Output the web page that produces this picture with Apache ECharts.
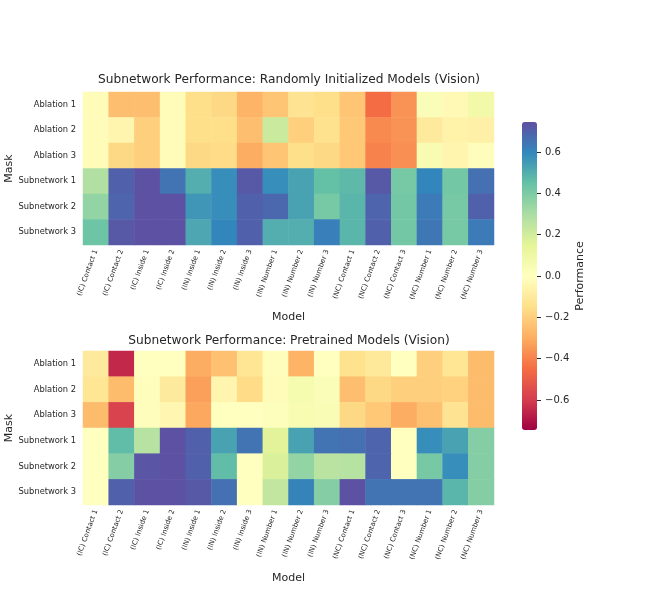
<!DOCTYPE html>
<html>
<head>
<meta charset="utf-8">
<script src="https://cdn.jsdelivr.net/npm/echarts@6/dist/echarts.min.js"></script>
<style>
  html, body { margin: 0; padding: 0; background: #fff; }
  #chart { width: 664px; height: 595px; }
</style>
</head>
<body>
<div id="chart"></div>
<script>
// column and row names
var models = ['(IC) Contact 1', '(IC) Contact 2', '(IC) Inside 1', '(IC) Inside 2',
  '(IN) Inside 1', '(IN) Inside 2', '(IN) Inside 3', '(IN) Number 1', '(IN) Number 2', '(IN) Number 3',
  '(NC) Contact 1', '(NC) Contact 2', '(NC) Contact 3', '(NC) Number 1', '(NC) Number 2', '(NC) Number 3'];
var masks = ['Ablation 1', 'Ablation 2', 'Ablation 3', 'Subnetwork 1', 'Subnetwork 2', 'Subnetwork 3'];

// randomly initialized models, one row per mask
var randomRows = [
  [-0.02, -0.25, -0.25, -0.02, -0.15, -0.17, -0.28, -0.23, -0.13, -0.15, -0.23, -0.45, -0.36, 0.03, -0.03, 0.08],
  [-0.02, -0.05, -0.20, -0.02, -0.15, -0.15, -0.25, 0.22, -0.20, -0.14, -0.22, -0.38, -0.36, -0.10, -0.06, -0.07],
  [-0.02, -0.17, -0.20, -0.02, -0.17, -0.16, -0.30, -0.23, -0.15, -0.17, -0.22, -0.40, -0.37, 0.05, -0.05, -0.01],
  [0.28, 0.70, 0.74, 0.65, 0.50, 0.58, 0.72, 0.58, 0.53, 0.45, 0.47, 0.72, 0.41, 0.60, 0.42, 0.66],
  [0.35, 0.69, 0.74, 0.74, 0.56, 0.58, 0.70, 0.68, 0.53, 0.41, 0.48, 0.69, 0.42, 0.63, 0.41, 0.70],
  [0.43, 0.72, 0.74, 0.74, 0.52, 0.60, 0.70, 0.50, 0.50, 0.62, 0.48, 0.70, 0.42, 0.64, 0.41, 0.63]
];

// pretrained models
var pretrainedRows = [
  [-0.10, -0.65, 0.00, 0.00, -0.30, -0.24, -0.12, -0.01, -0.28, 0.00, -0.14, -0.11, 0.00, -0.20, -0.12, -0.26],
  [-0.12, -0.26, -0.01, -0.10, -0.33, -0.05, -0.16, -0.02, 0.06, 0.03, -0.25, -0.17, -0.20, -0.20, -0.19, -0.26],
  [-0.26, -0.58, -0.01, -0.04, -0.31, 0.00, 0.00, 0.01, 0.05, 0.04, -0.17, -0.22, -0.30, -0.24, -0.13, -0.26],
  [0.00, 0.46, 0.27, 0.74, 0.70, 0.53, 0.65, 0.16, 0.53, 0.65, 0.66, 0.69, 0.00, 0.58, 0.53, 0.38],
  [0.00, 0.38, 0.73, 0.74, 0.70, 0.46, 0.00, 0.18, 0.35, 0.26, 0.27, 0.69, 0.00, 0.41, 0.58, 0.38],
  [0.00, 0.70, 0.74, 0.74, 0.72, 0.66, 0.00, 0.24, 0.61, 0.38, 0.74, 0.65, 0.65, 0.65, 0.48, 0.38]
];

var colorbarTicks = [-0.6, -0.4, -0.2, 0.0, 0.2, 0.4, 0.6];
var vLimit = 0.745;
var spectral = ['#9e0142', '#d53e4f', '#f46d43', '#fdae61', '#fee08b', '#ffffbf',
  '#e6f598', '#abdda4', '#66c2a5', '#3288bd', '#5e4fa2'];

function toCells(rows) {
  var out = [];
  rows.forEach(function (row, y) {
    row.forEach(function (v, x) { out.push([x, y, v]); });
  });
  return out;
}

var txt = '#262626';
var font = 'DejaVu Sans';

function xAx(gi, gap) {
  return {
    type: 'category', gridIndex: gi, data: models,
    name: 'Model', nameLocation: 'middle', nameGap: gap, nameMoveOverlap: false,
    nameTextStyle: { fontSize: 11, color: txt, fontFamily: font },
    axisLine: { show: false }, axisTick: { show: false }, splitLine: { show: false },
    axisLabel: { rotate: 70, fontSize: 7, color: txt, fontFamily: font, margin: 5, interval: 0 }
  };
}
function yAx(gi) {
  return {
    type: 'category', gridIndex: gi, data: masks, inverse: true,
    name: 'Mask', nameLocation: 'middle', nameGap: 68, nameMoveOverlap: false,
    nameTextStyle: { fontSize: 11, color: txt, fontFamily: font },
    axisLine: { show: false }, axisTick: { show: false }, splitLine: { show: false },
    axisLabel: { fontSize: 8.3, color: txt, fontFamily: font, margin: 7 }
  };
}

var chart = echarts.init(document.getElementById('chart'), null, { renderer: 'canvas' });
chart.setOption({
  animation: false,
  backgroundColor: '#fff',
  title: [{
    text: 'Subnetwork Performance: Randomly Initialized Models (Vision)',
    left: 289, top: 74, textAlign: 'center', padding: 0,
    textStyle: { fontSize: 12.2, fontWeight: 'normal', color: txt, fontFamily: font }
  }, {
    text: 'Subnetwork Performance: Pretrained Models (Vision)',
    left: 289, top: 335, textAlign: 'center', padding: 0,
    textStyle: { fontSize: 12.2, fontWeight: 'normal', color: txt, fontFamily: font }
  }],
  grid: [
    { left: 83, top: 92, width: 411, height: 153, outerBoundsMode: 'none', containLabel: false },
    { left: 83, top: 351, width: 411, height: 154, outerBoundsMode: 'none', containLabel: false },
    { left: 522, top: 122, width: 15, height: 308, outerBoundsMode: 'none', containLabel: false }
  ],
  xAxis: [xAx(0, 67), xAx(1, 68), { type: 'category', gridIndex: 2, data: [''], show: false }],
  yAxis: [yAx(0), yAx(1), {
    type: 'value', gridIndex: 2, position: 'right', min: -vLimit, max: vLimit,
    name: 'Performance', nameLocation: 'middle', nameGap: 38, nameRotate: 90, nameMoveOverlap: false,
    nameTextStyle: { fontSize: 11, color: txt, fontFamily: font },
    axisLine: { show: false }, splitLine: { show: false },
    axisTick: { show: true, length: 4, customValues: colorbarTicks, lineStyle: { color: txt, width: 1 } },
    axisLabel: {
      customValues: colorbarTicks, fontSize: 10, color: txt, fontFamily: font, margin: 8,
      formatter: function (v) { return (v < 0 ? '\u2212' : '') + Math.abs(v).toFixed(1); }
    }
  }],
  visualMap: {
    type: 'continuous', seriesIndex: [0, 1], min: -vLimit, max: vLimit,
    calculable: false, hoverLink: false, orient: 'vertical',
    left: 522, top: 122, padding: 0, itemWidth: 15, itemHeight: 308,
    text: null, inRange: { color: spectral }
  },
  series: [
    { type: 'heatmap', xAxisIndex: 0, yAxisIndex: 0, data: toCells(randomRows), emphasis: { disabled: true } },
    { type: 'heatmap', xAxisIndex: 1, yAxisIndex: 1, data: toCells(pretrainedRows), emphasis: { disabled: true } },
    { type: 'scatter', xAxisIndex: 2, yAxisIndex: 2, data: [], silent: true }
  ]
});
</script>
</body>
</html>
